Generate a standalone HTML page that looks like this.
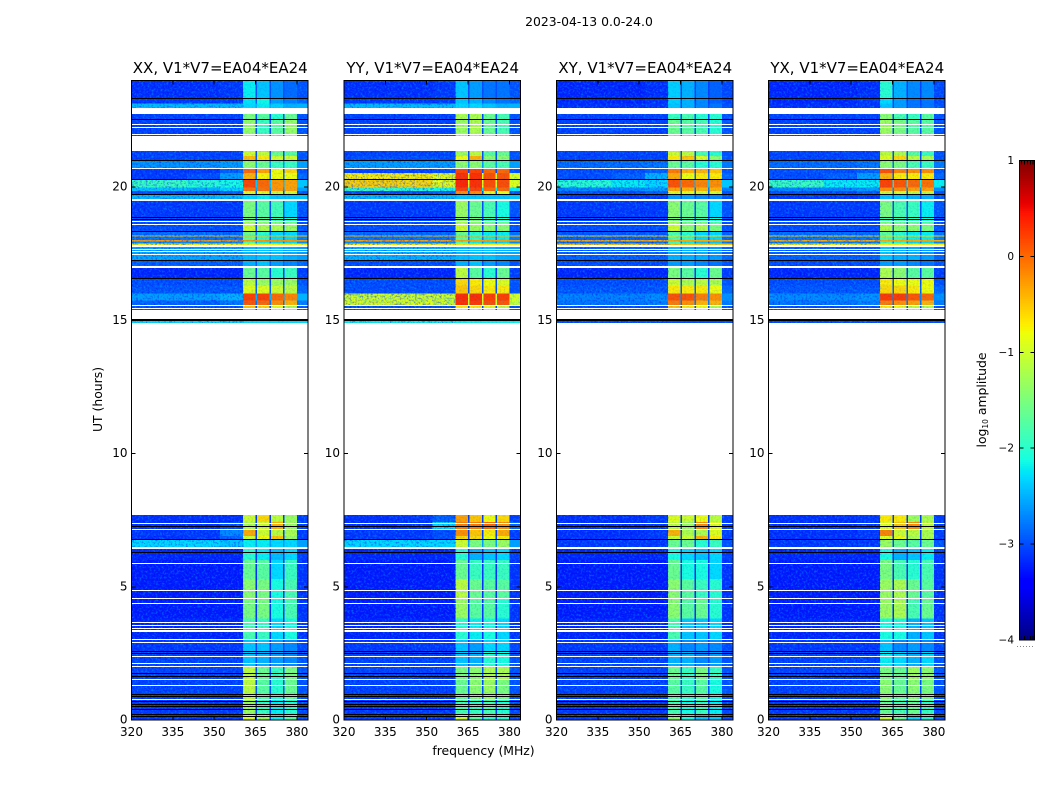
<!DOCTYPE html>
<html>
<head>
<meta charset="utf-8">
<title>2023-04-13 0.0-24.0</title>
<style>
html,body{margin:0;padding:0;background:#fff;}
svg{display:block;}
text{font-family:"DejaVu Sans","Liberation Sans",sans-serif;fill:#000;}
</style>
</head>
<body>
<svg id="chart" xmlns="http://www.w3.org/2000/svg" width="1050" height="800" viewBox="0 0 1050 800">
<defs>
<filter id="speckle-light" x="0" y="0" width="100%" height="100%" color-interpolation-filters="sRGB">
<feTurbulence type="fractalNoise" baseFrequency="0.48" numOctaves="2" seed="7"/>
<feColorMatrix type="matrix" values="0 0 0 0 0  0 0 0 0 0.72  0 0 0 0 1  3.4 0 0 0 -1.62"/>
</filter>
<filter id="speckle-dark" x="0" y="0" width="100%" height="100%" color-interpolation-filters="sRGB">
<feTurbulence type="fractalNoise" baseFrequency="0.52" numOctaves="2" seed="23"/>
<feColorMatrix type="matrix" values="0 0 0 0 0  0 0 0 0 0  0 0 0 0 0.9  3.4 0 0 0 -1.62"/>
</filter>
</defs>
<text x="589" y="26" font-size="12.4" text-anchor="middle">2023-04-13 0.0-24.0</text>
<text transform="translate(102,399.5) rotate(-90)" font-size="12.4" text-anchor="middle">UT (hours)</text>
<text x="483.5" y="755" font-size="12.4" text-anchor="middle">frequency (MHz)</text>
<text transform="translate(986,400) rotate(-90)" font-size="12.4" text-anchor="middle">log<tspan font-size="7.5" dy="2">10</tspan><tspan dy="-2"> amplitude</tspan></text>
<g id="panels"></g>
<g id="colorbar"></g>
</svg>
<script>
const panelTitles = ["XX, V1*V7=EA04*EA24","YY, V1*V7=EA04*EA24","XY, V1*V7=EA04*EA24","YX, V1*V7=EA04*EA24"];
const freqTicks = [320,335,350,365,380];
const utTicks = [0,5,10,15,20];
const colorTicks = [1,0,-1,-2,-3,-4];
const freqEdges = [320,340,352,360.5,365,365.5,370,370.5,375,375.5,380,384];
const columnToValue = [0,1,2,3,7,4,7,5,7,6,7];
const utBands = [[24,23.34],[23.34,23.14],[23.14,22.75],[22.75,22.53],[22.53,21.34],[21.34,21.17],[21.17,21],[21,20.68],[20.68,20.52],[20.52,20.28],[20.28,19.98],[19.98,19.85],[19.85,19.74],[19.74,19.47],[19.47,18.85],[18.85,18.68],[18.68,18.34],[18.34,18.19],[18.19,18.15],[18.15,18.02],[18.02,17.96],[17.96,17.88],[17.88,17.81],[17.81,17.24],[17.24,16.98],[16.98,16.59],[16.59,16.31],[16.31,16.01],[16.01,15.75],[15.75,15.58],[15.58,15.04],[15.04,14.89],[7.69,7.43],[7.43,7.13],[7.13,6.9],[6.9,6.77],[6.77,6.41],[6.41,6],[6,5.3],[5.3,4.5],[4.5,3.8],[3.8,3],[3,2.55],[2.55,2],[2,1.5],[1.5,0.75],[0.75,0.2],[0.2,0]];
const ampXX = [
[-3.15,-3.15,-3.1,-2.2,-2.4,-2.65,-2.85,-3],[-3.1,-3.1,-3.1,-2.25,-2.15,-2.6,-2.75,-2.9],[-2.45,-2.45,-2.45,-2.3,-2.2,-2.35,-2.5,-2.5],[-3.05,-3.05,-3.05,-1.5,-1.7,-2,-1.6,-3],[-3.05,-3.05,-3.05,-1.35,-1.9,-1.7,-1.35,-3],[-3.05,-3.05,-3.05,-1,-1.1,-1.6,-1.7,-3],[-3.05,-3.05,-3.05,-0.45,-0.7,-1,-1,-3],[-2.65,-2.65,-2.6,-1.4,-1.6,-1.9,-1.9,-2.6],
[-3.1,-3.1,-2.9,0,-0.3,-0.8,-0.6,-3],[-3.1,-3,-2.6,-0.4,-0.75,-0.8,-0.8,-2.9],[-1.9,-2,-2.1,0.18,0,-0.25,-0.3,-2.4],[-2.4,-2.5,-2.3,-0.05,-0.05,-0.25,-0.3,-2.6],[-3,-3,-2.9,-0.9,-0.9,-1,-1,-3],[-2.45,-2.45,-2.45,-2.3,-2.2,-2.4,-2.4,-2.4],[-3.1,-3.1,-3.1,-1.5,-1.7,-1.85,-2.3,-3],[-3,-3,-3,-1.5,-1.6,-1.8,-1.9,-3],
[-3,-3,-3,-1,-1.2,-1.2,-1.3,-3],[-2.85,-2.85,-2.85,-1.6,-2,-2.3,-2.3,-2.85],[-0.5,-0.5,-0.5,-0.5,-0.5,-0.5,-0.5,-0.5],[-2.8,-2.8,-2.8,-1.7,-2,-2.3,-2.3,-2.8],[-0.25,-0.25,-0.25,-0.25,-0.25,-0.25,-0.25,-0.25],[-2.7,-2.7,-2.7,-1.8,-2.2,-2.3,-2.3,-2.7],[-0.75,-0.75,-0.75,-0.75,-0.75,-0.75,-0.75,-0.75],[-2.55,-2.55,-2.55,-2.45,-2.4,-2.4,-2.5,-2.6],
[-2.9,-2.9,-2.9,-2.5,-2.4,-2.6,-2.7,-2.9],[-3.2,-3.2,-3.2,-1.6,-1.7,-2,-1.9,-3.1],[-3,-3,-3,-1.1,-1.3,-1.3,-1.3,-3],[-2.95,-2.95,-2.95,-0.9,-0.9,-1,-1.1,-2.9],[-2.6,-2.6,-2.5,0.22,0.22,0,-0.15,-2.5],[-2.9,-2.9,-2.8,0.1,0,-0.2,-0.4,-2.8],[-3,-3,-3,-0.5,-0.6,-0.9,-1.2,-3],[-2.3,-2.3,-2.3,-2.3,-2.3,-2.3,-2.3,-2.3],
[-3.15,-3.15,-3.15,-1,-0.6,-1.1,-1.3,-3.1],[-3.15,-3.15,-3,-1.2,-1,-0.4,-1.3,-3.1],[-3.1,-3.1,-2.7,-0.35,-1,-1.1,-1.2,-3.1],[-3.15,-3.1,-2.9,-1,-0.8,-0.5,-1.3,-3.1],[-2.3,-2.3,-2.4,-2.2,-2.2,-2.3,-2.3,-2.6],[-3.2,-3.2,-3.2,-2,-2.2,-2.45,-2.3,-3.1],[-3.25,-3.25,-3.25,-1.6,-1.7,-2.3,-1.9,-3.15],[-3.25,-3.25,-3.25,-1.4,-1.5,-2.1,-1.8,-3.15],
[-3.25,-3.25,-3.25,-1.5,-1.5,-2.1,-1.8,-3.15],[-3.2,-3.2,-3.2,-1.8,-1.9,-2.3,-2.1,-3.15],[-3.1,-3.1,-3.1,-2.4,-2.4,-2.6,-2.7,-3.05],[-3.05,-3.05,-3.05,-2.4,-2.5,-2.6,-2.7,-3],[-3.05,-3.05,-3.05,-1.1,-1.6,-1.9,-1.5,-3],[-3.05,-3.05,-3.05,-1.1,-1.7,-2,-1.6,-3],[-3.1,-3.1,-3.1,-1.3,-1.9,-2.2,-2,-3.05],[-3.1,-3.1,-3.1,-0.9,-1.3,-2.2,-1.7,-3.05]
];
const ampYY = [
[-3.15,-3.15,-3.1,-2.4,-2.6,-2.8,-2.8,-3],[-3.1,-3.1,-3.1,-2.4,-2.5,-2.7,-2.8,-2.9],[-2.45,-2.45,-2.45,-2.3,-2.3,-2.4,-2.5,-2.5],[-3.05,-3.05,-3.05,-1.2,-1.2,-1.6,-1.8,-3],[-3.05,-3.05,-3.05,-1.3,-1.2,-1.6,-1.8,-3],[-3.05,-3.05,-3.05,-1.3,-1.1,-1.7,-1.6,-3],[-3,-3,-3,-0.8,-0.4,-1.4,-1.4,-3],[-2.6,-2.6,-2.6,-1.4,-1.4,-1.7,-1.8,-2.6],
[-3.05,-3.05,-3,0.2,0.2,0,0,-3],[-0.7,-0.7,-0.8,0.3,0.3,0.12,0.12,-0.9],[-0.55,-0.6,-0.8,0.35,0.3,0.15,0.15,-0.9],[-1.9,-2,-2.1,0.2,0.2,0,0,-2.2],[-3,-3,-2.9,-0.2,-0.2,-0.9,-0.9,-3],[-2.45,-2.45,-2.45,-2.4,-2.4,-2.4,-2.4,-2.4],[-3.1,-3.1,-3.1,-1.3,-1.6,-1.8,-2.1,-3],[-3,-3,-3,-1.4,-1.5,-1.8,-1.9,-3],
[-3,-3,-3,-1,-1.3,-1.4,-1.4,-3],[-2.85,-2.85,-2.85,-1.6,-2,-2.2,-2.2,-2.85],[-0.45,-0.45,-0.45,-0.45,-0.45,-0.45,-0.45,-0.45],[-2.8,-2.8,-2.8,-1.7,-2,-2.2,-2.2,-2.8],[-0.3,-0.3,-0.3,-0.3,-0.3,-0.3,-0.3,-0.3],[-2.7,-2.7,-2.7,-1.8,-2.2,-2.3,-2.3,-2.7],[-0.7,-0.7,-0.7,-0.7,-0.7,-0.7,-0.7,-0.7],[-2.5,-2.5,-2.5,-2.45,-2.4,-2.4,-2.5,-2.55],
[-3,-3,-3,-2.5,-2.4,-2.6,-2.7,-3],[-3.2,-3.2,-3.2,-1.1,-1.7,-2,-1.6,-3.1],[-3,-3,-3,-0.6,-0.7,-0.8,-0.9,-3],[-3,-3,-3,-0.5,-0.6,-0.7,-0.7,-3],[-1,-1,-1,0.32,0.32,0.22,0.22,-0.95],[-0.9,-0.9,-1,0.3,0.25,0.15,0.1,-1],[-3,-3,-3,-0.7,-0.7,-0.9,-1.1,-3],[-2.2,-2.2,-2.2,-2.2,-2.2,-2.2,-2.2,-2.2],
[-3.15,-3.1,-2.9,-0.3,-0.5,-0.8,-0.6,-3.1],[-3.15,-3.1,-2.3,-0.1,-0.1,0,-0.2,-2.9],[-3.1,-3.1,-3,-0.2,-0.5,-0.7,-0.35,-3.1],[-3.1,-3.1,-3,-0.6,-0.6,-0.8,-0.7,-3.1],[-2.3,-2.3,-2.3,-1,-1.5,-1.5,-1.3,-2.6],[-3.2,-3.2,-3.2,-2,-2.5,-2.4,-2.3,-3.1],[-3.25,-3.25,-3.25,-1.6,-1.9,-1.9,-1.9,-3.15],[-3.25,-3.25,-3.25,-1.1,-1.6,-1.7,-1.7,-3.15],
[-3.25,-3.25,-3.25,-1.3,-1.7,-1.7,-2,-3.15],[-3.2,-3.2,-3.2,-2,-2.2,-2.1,-2.3,-3.15],[-3.1,-3.1,-3.1,-2.4,-2.6,-2.3,-2.3,-3.05],[-3.05,-3.05,-3.05,-2.4,-2.5,-2,-2.1,-3],[-3.05,-3.05,-3.05,-1.5,-1.4,-1.2,-1.2,-3],[-3.05,-3.05,-3.05,-1.6,-1.4,-1.3,-1.5,-3],[-3.1,-3.1,-3.1,-1.8,-1.9,-1.8,-2,-3.05],[-3.1,-3.1,-3.1,-1,-1.7,-2,-2,-3.05]
];
const ampXY = [
[-3.2,-3.2,-3.15,-2.35,-2.5,-2.7,-2.9,-3.05],[-3.2,-3.2,-3.15,-2.35,-2.5,-2.7,-2.9,-3.05],[-3.15,-3.15,-3.1,-2.4,-2.5,-2.7,-2.8,-3],[-3.05,-3.05,-3.05,-1.9,-1.8,-2,-2,-3],[-3.05,-3.05,-3.05,-1.6,-1.7,-1.8,-2,-3],[-3.05,-3.05,-3.05,-1,-1.1,-1.8,-2,-3],[-3.05,-3.05,-3.05,-0.7,-0.5,-0.9,-1.4,-3],[-2.85,-2.85,-2.8,-1.6,-1.7,-2,-2,-2.8],
[-3,-3,-2.9,-0.1,-0.4,-0.4,-0.5,-3],[-3,-2.9,-2.5,-0.35,-0.8,-0.7,-0.7,-2.9],[-2,-2.2,-2.3,0.12,0,-0.15,-0.2,-2.4],[-2.7,-2.7,-2.6,-0.3,-0.4,-0.4,-0.4,-2.8],[-3,-3,-2.9,-0.9,-0.9,-1,-1,-3],[-3.1,-3.1,-3.1,-2.6,-2.6,-2.7,-2.7,-3],[-3.1,-3.1,-3.1,-1.4,-1.6,-1.7,-2.3,-3],[-3,-3,-3,-1.5,-1.7,-1.8,-2,-3],
[-3,-3,-3,-1,-1.4,-1.2,-1.5,-3],[-2.95,-2.95,-2.95,-1.8,-2,-2.3,-2.3,-2.95],[-0.65,-0.65,-0.65,-0.65,-0.65,-0.65,-0.65,-0.65],[-2.9,-2.9,-2.9,-1.8,-2,-2.3,-2.3,-2.9],[-0.35,-0.35,-0.35,-0.35,-0.35,-0.35,-0.35,-0.35],[-2.85,-2.85,-2.85,-1.9,-2.2,-2.4,-2.4,-2.85],[-0.5,-0.5,-0.5,-0.5,-0.5,-0.5,-0.5,-0.5],[-2.9,-2.9,-2.9,-2.5,-2.5,-2.5,-2.6,-2.9],
[-3,-3,-3,-2.6,-2.6,-2.7,-2.8,-3],[-3.2,-3.2,-3.2,-1.5,-1.7,-2,-1.6,-3.1],[-3,-3,-3,-1,-1.2,-1.1,-1.2,-3],[-2.95,-2.95,-2.95,-0.7,-0.7,-0.7,-0.8,-2.9],[-2.75,-2.75,-2.7,0.12,0.12,-0.1,-0.2,-2.7],[-2.8,-2.8,-2.75,-0.1,-0.2,-0.4,-0.4,-2.8],[-3,-3,-3,-0.5,-0.7,-0.8,-1.2,-3],[-3,-3,-3,-3,-3,-3,-3,-3],
[-3.15,-3.15,-3.1,-0.9,-1,-0.8,-1.1,-3.1],[-3.15,-3.15,-3.1,-1.1,-1.3,-0.2,-0.9,-3.1],[-3.15,-3.15,-3.1,-0.4,-1.2,-1.2,-0.9,-3.1],[-3.15,-3.15,-3.1,-1,-1,-0.4,-0.7,-3.1],[-3.1,-3.1,-3.1,-1.6,-1.6,-2,-1.9,-3],[-3.2,-3.2,-3.2,-2.1,-2.3,-2.4,-2.3,-3.1],[-3.25,-3.25,-3.25,-1.6,-2.1,-2.1,-2.3,-3.15],[-3.25,-3.25,-3.25,-1.4,-1.7,-1.9,-2,-3.15],
[-3.25,-3.25,-3.25,-1.4,-1.7,-1.6,-2,-3.15],[-3.2,-3.2,-3.2,-1.8,-2.4,-2.4,-2.3,-3.15],[-3.1,-3.1,-3.1,-2.5,-2.7,-2.6,-2.7,-3.05],[-3.05,-3.05,-3.05,-2.5,-2.5,-2.7,-2.6,-3],[-3.05,-3.05,-3.05,-1.6,-1.9,-1.5,-1.9,-3],[-3.05,-3.05,-3.05,-1.7,-1.9,-1.7,-2.1,-3],[-3.1,-3.1,-3.1,-1.8,-2.1,-1.9,-2.2,-3.05],[-3.1,-3.1,-3.1,-1.4,-2.1,-2.4,-2.4,-3.05]
];
const ampYX = [
[-3.2,-3.2,-3.15,-2,-2.5,-2.7,-2.7,-3.05],[-3.2,-3.2,-3.1,-2.3,-2.6,-2.8,-2.8,-3.05],[-3.15,-3.15,-3.1,-2.4,-2.6,-2.8,-2.8,-3],[-3.05,-3.05,-3.05,-1.4,-1.8,-1.9,-1.7,-3],[-3.05,-3.05,-3.05,-1.3,-1.5,-1.7,-1.7,-3],[-3.05,-3.05,-3.05,-1.1,-1.2,-1.7,-1.9,-3],[-3.05,-3.05,-3.05,-0.9,-0.6,-1.1,-1.2,-3],[-2.85,-2.85,-2.8,-1.4,-1.5,-1.8,-1.9,-2.8],
[-3,-3,-2.9,0.12,-0.15,-0.2,-0.2,-3],[-3,-2.9,-2.6,-0.4,-0.7,-0.7,-0.7,-2.9],[-1.9,-2.2,-2.2,0.2,0.1,0,-0.05,-2.2],[-2.7,-2.7,-2.6,-0.2,-0.2,-0.3,-0.3,-2.7],[-3,-3,-2.9,-1,-1,-1.1,-1.1,-3],[-3.1,-3.1,-3.1,-2.4,-2.4,-2.5,-2.5,-3],[-3.1,-3.1,-3.1,-1.5,-1.8,-1.9,-2.2,-3],[-3,-3,-3,-1.8,-1.8,-1.9,-2,-3],
[-3,-3,-3,-1.2,-1.4,-1.4,-1.5,-3],[-2.85,-2.85,-2.85,-1.7,-2,-2.2,-2.2,-2.85],[-0.6,-0.6,-0.6,-0.6,-0.6,-0.6,-0.6,-0.6],[-2.8,-2.8,-2.8,-1.8,-2,-2.2,-2.2,-2.8],[-0.35,-0.35,-0.35,-0.35,-0.35,-0.35,-0.35,-0.35],[-2.75,-2.75,-2.75,-1.9,-2.1,-2.3,-2.3,-2.75],[-0.75,-0.75,-0.75,-0.75,-0.75,-0.75,-0.75,-0.75],[-2.9,-2.9,-2.9,-2.4,-2.5,-2.5,-2.6,-2.9],
[-3,-3,-3,-2.6,-2.6,-2.7,-2.8,-3],[-3.2,-3.2,-3.2,-1.2,-1.4,-1.7,-1.7,-3.1],[-3,-3,-3,-0.7,-0.8,-0.8,-0.8,-3],[-2.95,-2.95,-2.95,-0.6,-0.6,-0.7,-0.8,-2.9],[-2.7,-2.7,-2.65,0.25,0.25,0.1,0,-2.7],[-2.8,-2.8,-2.75,-0.1,-0.2,-0.3,-0.4,-2.8],[-3,-3,-3,-0.7,-0.8,-1.1,-1.2,-3],[-3,-3,-3,-3,-3,-3,-3,-3],
[-3.15,-3.15,-3.1,-0.7,-0.7,-1.3,-1.2,-3.1],[-3.15,-3.15,-3.1,-0.9,-0.5,-0.2,-1.1,-3.1],[-3.15,-3.15,-3.1,-0.15,-1,-1.1,-1.2,-3.1],[-3.15,-3.15,-3.1,-0.9,-0.8,-1.2,-1.2,-3.1],[-3.1,-3.1,-3.1,-1.3,-1.6,-1.7,-1.6,-3],[-3.2,-3.2,-3.2,-2.1,-2.5,-2.4,-2.2,-3.1],[-3.25,-3.25,-3.25,-1.5,-1.8,-2,-1.8,-3.15],[-3.25,-3.25,-3.25,-1.3,-1.2,-1.6,-1.7,-3.15],
[-3.25,-3.25,-3.25,-1.3,-1.2,-1.8,-1.6,-3.15],[-3.2,-3.2,-3.2,-2.1,-2.1,-2.5,-2.4,-3.15],[-3.1,-3.1,-3.1,-2.4,-2.7,-2.6,-2.7,-3.05],[-3.05,-3.05,-3.05,-2.2,-2.3,-2.5,-2.3,-3],[-3.05,-3.05,-3.05,-1.5,-1.6,-1.3,-1.4,-3],[-3.05,-3.05,-3.05,-1.4,-1.6,-1.4,-1.5,-3],[-3.1,-3.1,-3.1,-1.6,-1.8,-1.6,-1.9,-3.05],[-3.1,-3.1,-3.1,-1,-1.6,-2.3,-2,-3.05]
];
const panelAmps = [ampXX, ampYY, ampXY, ampYX];
const missingBands = [[22.96,22.75],[22.38,22.34],[22.26,22.22],[22.01,21.98],[21.9,21.34],[20.72,20.68],[19.56,19.47],[18.71,18.68],[18.6,18.56],[17.81,17.76],[17.68,17.64],[17.59,17.55],[17.49,17.45],[17.03,16.98],[15.58,15.54],[15.47,15.43],[15.38,15.04],[14.89,7.69],[7.41,7.37],[7.16,7.13],[6.49,6.41],[5.9,5.86],[4.88,4.84],[4.58,4.54],[4.39,4.35],[3.67,3.63],[3.56,3.53],[3.47,3.43],[3.36,3.3],[3.04,3],[2.93,2.89],[2.42,2.38],[2.14,2.1],[2.01,1.98],[1.54,1.5],[1.3,1.26],[0.79,0.75]];
const lowRows = [[23.35,23.32],[22.54,22.51],[21.01,20.98],[20.29,20.26],[19.75,19.72],[18.86,18.83],[18.8,18.77],[18.36,18.3],[17.25,17.22],[16.6,16.55],[15.04,14.99],[7.29,7.26],[6.79,6.74],[6.29,6.26],[2.58,2.54],[2.52,2.48],[1.78,1.75],[1.67,1.64],[0.99,0.96],[0.91,0.88],[0.7,0.67],[0.6,0.57],[0.52,0.49],[0.42,0.39],[0.24,0.21],[0.16,0.13]];

const panelLefts = [131.5,344,556.5,768.5];
const plotW = 176.5, plotTop = 80.5, plotH = 639.5;
const xMin = 320, xMax = 384, yMin = 0, yMax = 24, cMin = -4, cMax = 1;
const NS = 'http://www.w3.org/2000/svg';
function xScale(left, f){ return left + (f - xMin) / (xMax - xMin) * plotW; }
function yScale(h){ return plotTop + (yMax - h) / (yMax - yMin) * plotH; }
function ramp(v, pts){
  for (let i = 1; i < pts.length; i++) {
    if (v <= pts[i][0]) {
      const a = pts[i-1], b = pts[i];
      return a[1] + (b[1]-a[1]) * (v-a[0]) / (b[0]-a[0]);
    }
  }
  return pts[pts.length-1][1];
}
function jet(v){
  const t = Math.max(0, Math.min(1, (v - cMin) / (cMax - cMin)));
  const r = ramp(t, [[0,0],[0.35,0],[0.66,1],[0.89,1],[1,0.5]]);
  const g = ramp(t, [[0,0],[0.125,0],[0.375,1],[0.64,1],[0.91,0],[1,0]]);
  const b = ramp(t, [[0,0.5],[0.11,1],[0.34,1],[0.65,0],[1,0]]);
  return 'rgb(' + Math.round(r*255) + ',' + Math.round(g*255) + ',' + Math.round(b*255) + ')';
}
function rect(parent, x, y, w, h, fill){
  const el = document.createElementNS(NS, 'rect');
  el.setAttribute('x', x); el.setAttribute('y', y);
  el.setAttribute('width', w); el.setAttribute('height', h);
  el.setAttribute('fill', fill);
  el.setAttribute('shape-rendering', 'crispEdges');
  parent.appendChild(el);
  return el;
}
function line(parent, x1, y1, x2, y2){
  const el = document.createElementNS(NS, 'line');
  el.setAttribute('x1', x1); el.setAttribute('y1', y1);
  el.setAttribute('x2', x2); el.setAttribute('y2', y2);
  el.setAttribute('stroke', '#000');
  el.setAttribute('stroke-width', '1');
  el.setAttribute('shape-rendering', 'crispEdges');
  parent.appendChild(el);
  return el;
}
function label(parent, x, y, str, anchor){
  const el = document.createElementNS(NS, 'text');
  el.setAttribute('x', x); el.setAttribute('y', y);
  el.setAttribute('font-size', '12');
  el.setAttribute('text-anchor', anchor);
  el.textContent = str;
  parent.appendChild(el);
  return el;
}
const panelsRoot = document.getElementById('panels');
panelTitles.forEach(function(title, p){
  const left = panelLefts[p];
  const g = document.createElementNS(NS, 'g');
  
  
  panelsRoot.appendChild(g);
  const amps = panelAmps[p];
  utBands.forEach(function(band, r){
    const y0 = yScale(band[0]), y1 = yScale(band[1]);
    for (let c = 0; c < columnToValue.length; c++) {
      const x0 = xScale(left, freqEdges[c]), x1 = xScale(left, freqEdges[c+1]);
      const cell = rect(g, x0, y0, x1 - x0 + 0.3, y1 - y0 + 0.3, jet(amps[r][columnToValue[c]]));
      
      
    }
  });
  const bgX0 = xScale(left, 320), bgX1 = xScale(left, 360.5), bandX1 = xScale(left, 380), bgX2 = xScale(left, 384);
  const speckLeft = rect(g, bgX0, plotTop, bgX1 - bgX0, plotH, '#fff');
  speckLeft.setAttribute('filter', 'url(#speckle-light)');
  speckLeft.setAttribute('opacity', '0.42');
  
  
  const speckLeftDark = rect(g, bgX0, plotTop, bgX1 - bgX0, plotH, '#fff');
  speckLeftDark.setAttribute('filter', 'url(#speckle-dark)');
  speckLeftDark.setAttribute('opacity', '0.4');
  
  
  const speckBand = rect(g, bgX1, plotTop, bandX1 - bgX1, plotH, '#fff');
  speckBand.setAttribute('filter', 'url(#speckle-light)');
  speckBand.setAttribute('opacity', '0.14');
  
  
  const speckBandDark = rect(g, bgX1, plotTop, bandX1 - bgX1, plotH, '#fff');
  speckBandDark.setAttribute('filter', 'url(#speckle-dark)');
  speckBandDark.setAttribute('opacity', '0.1');
  
  
  const speckRight = rect(g, bandX1, plotTop, bgX2 - bandX1, plotH, '#fff');
  speckRight.setAttribute('filter', 'url(#speckle-light)');
  speckRight.setAttribute('opacity', '0.42');
  
  
  missingBands.forEach(function(b){
    const top = Math.round(yScale(b[0]));
    const el = rect(g, left, top, plotW, Math.max(1, Math.round(yScale(b[1])) - top), '#fff');
    
    
  });
  lowRows.forEach(function(b){
    const top = Math.round(yScale(b[0]));
    const el = rect(g, left, top, plotW, Math.max(1, Math.round(yScale(b[1])) - top), '#000');
    
    
  });
  const frame = document.createElementNS(NS, 'rect');
  frame.setAttribute('x', left); frame.setAttribute('y', plotTop);
  frame.setAttribute('width', plotW); frame.setAttribute('height', plotH);
  frame.setAttribute('fill', 'none'); frame.setAttribute('stroke', '#000');
  frame.setAttribute('shape-rendering', 'crispEdges');
  
  
  g.appendChild(frame);
  const t = document.createElementNS(NS, 'text');
  t.setAttribute('x', left + plotW / 2 + 0.5); t.setAttribute('y', 73);
  t.setAttribute('font-size', '15'); t.setAttribute('text-anchor', 'middle');
  t.textContent = title;
  
  
  g.appendChild(t);
  freqTicks.forEach(function(f){
    const x = xScale(left, f);
    const a = line(g, x, plotTop + plotH, x, plotTop + plotH - 4);
    
    
    const b = line(g, x, plotTop, x, plotTop + 4);
    
    
    const l = label(g, x, 736, String(f), 'middle');
    
    
  });
  utTicks.forEach(function(h){
    const y = yScale(h);
    const a = line(g, left, y, left + 4, y);
    
    
    const b = line(g, left + plotW, y, left + plotW - 4, y);
    
    
    const l = label(g, left - 4, y + 3.5, String(h), 'end');
    
    
  });
});
const cb = document.getElementById('colorbar');
const cbLeft = 1019.5, cbW = 15, cbTop = 160.5, cbH = 479.5;
function cScale(v){ return cbTop + (cMax - v) / (cMax - cMin) * cbH; }
const cbLevels = 256;
for (let i = 0; i < cbLevels; i++) {
  const hi = cMax - (cMax - cMin) * i / cbLevels;
  const lo = cMax - (cMax - cMin) * (i + 1) / cbLevels;
  const el = rect(cb, cbLeft, cScale(hi), cbW, cScale(lo) - cScale(hi) + 0.5, jet((hi + lo) / 2));
  
  
}
const cbFrame = document.createElementNS(NS, 'rect');
cbFrame.setAttribute('x', cbLeft); cbFrame.setAttribute('y', cbTop);
cbFrame.setAttribute('width', cbW); cbFrame.setAttribute('height', cbH);
cbFrame.setAttribute('fill', 'none'); cbFrame.setAttribute('stroke', '#000');
cbFrame.setAttribute('shape-rendering', 'crispEdges');


cb.appendChild(cbFrame);
colorTicks.forEach(function(v){
  const y = cScale(v);
  const a = line(cb, cbLeft, y, cbLeft + 4, y);
  
  
  const b = line(cb, cbLeft + cbW, y, cbLeft + cbW - 4, y);
  
  
  const l = label(cb, 1014, y + 3.5, v < 0 ? '\u2212' + Math.abs(v) : String(v), 'end');
  l.setAttribute('font-size', '10.5');
  
  
});
const cbMinorTicks = [1021.5,1024.5,1027.5,1030.5,1033];
cbMinorTicks.forEach(function(x){
  const top = line(cb, x, cbTop, x, cbTop + 4);
  
  
  const bottom = line(cb, x, cbTop + cbH, x, cbTop + cbH - 4);
  
  
});
const dots = line(cb, 1017, 646.5, 1035, 646.5);
dots.setAttribute('stroke', '#888');
dots.setAttribute('stroke-dasharray', '1 2');


</script>
</body>
</html>
